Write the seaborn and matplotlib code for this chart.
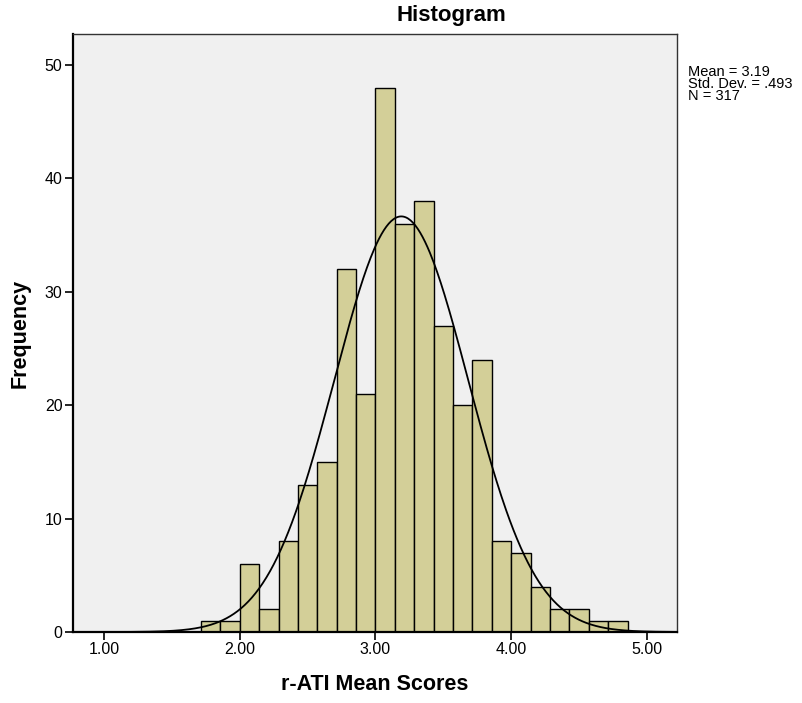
import numpy as np
import pandas as pd
import matplotlib
matplotlib.use("Agg")
import matplotlib.pyplot as plt
import seaborn as sns

# Data
counts = [1, 1, 6, 2, 8, 13, 15, 32, 21, 48, 36, 38, 27, 20, 24, 8, 7, 4, 2, 2, 1, 1]
bin_start = 12 / 7
bin_width = 1 / 7
mean_val = 3.19
sd_val = 0.493
n_val = 317
xticks = [1.0, 2.0, 3.0, 4.0, 5.0]
xtick_labels = ["1.00", "2.00", "3.00", "4.00", "5.00"]
yticks = [0, 10, 20, 30, 40, 50]
stats_lines = ["Mean = 3.19", "Std. Dev. = .493", "N = 317"]

sns.set_style("white")
plt.rcParams['font.family'] = ['Liberation Sans', 'DejaVu Sans']
plt.rcParams['text.color'] = 'black'
plt.rcParams['axes.labelcolor'] = 'black'
plt.rcParams['xtick.color'] = 'black'
plt.rcParams['ytick.color'] = 'black'

edges = bin_start + bin_width * np.arange(len(counts) + 1)
centers = (edges[:-1] + edges[1:]) / 2
df = pd.DataFrame({"x": centers, "w": counts})

fig = plt.figure(figsize=(8.03, 7.03), dpi=100)
ax = fig.add_axes([73 / 803, 1 - 632 / 703, (677 - 73) / 803, (632 - 34) / 703])
ax.set_facecolor("#f0f0f0")

sns.histplot(data=df, x="x", weights="w", binwidth=bin_width,
             binrange=(edges[0], edges[-1]), ax=ax,
             color="#d3cf98", edgecolor="black", linewidth=1.0, alpha=1.0)

xs = np.linspace(0.77, 5.22, 500)
ys = n_val * bin_width * np.exp(-0.5 * ((xs - mean_val) / sd_val) ** 2) / (sd_val * np.sqrt(2 * np.pi))
sns.lineplot(x=xs, y=ys, ax=ax, color="black", linewidth=1.3)

ax.set_xlim(0.772, 5.221)
ax.set_ylim(0, 52.73)
ax.set_xticks(xticks)
ax.set_xticklabels(xtick_labels)
ax.set_yticks(yticks)
ax.tick_params(axis="both", direction="out", length=6, width=1.2, labelsize=11.5,
               bottom=True, left=True, color="black", pad=1.5)

for side in ["left", "bottom"]:
    ax.spines[side].set_linewidth(1.6)
    ax.spines[side].set_color("black")
for side in ["top", "right"]:
    ax.spines[side].set_visible(True)
    ax.spines[side].set_linewidth(1.0)
    ax.spines[side].set_color("#333333")

ax.set_xlabel("r-ATI Mean Scores", fontsize=15.5, fontweight="bold", labelpad=12)
ax.set_ylabel("Frequency", fontsize=15.5, fontweight="bold", labelpad=10)

fig.text(451 / 803, 1 - 21 / 703, "Histogram", fontsize=16, fontweight="bold",
         ha="center", va="baseline")

fig.text(688 / 803, 1 - 65 / 703, "\n".join(stats_lines), fontsize=10.5,
         ha="left", va="top", linespacing=0.8)

fig.savefig("out.png", dpi=100)
